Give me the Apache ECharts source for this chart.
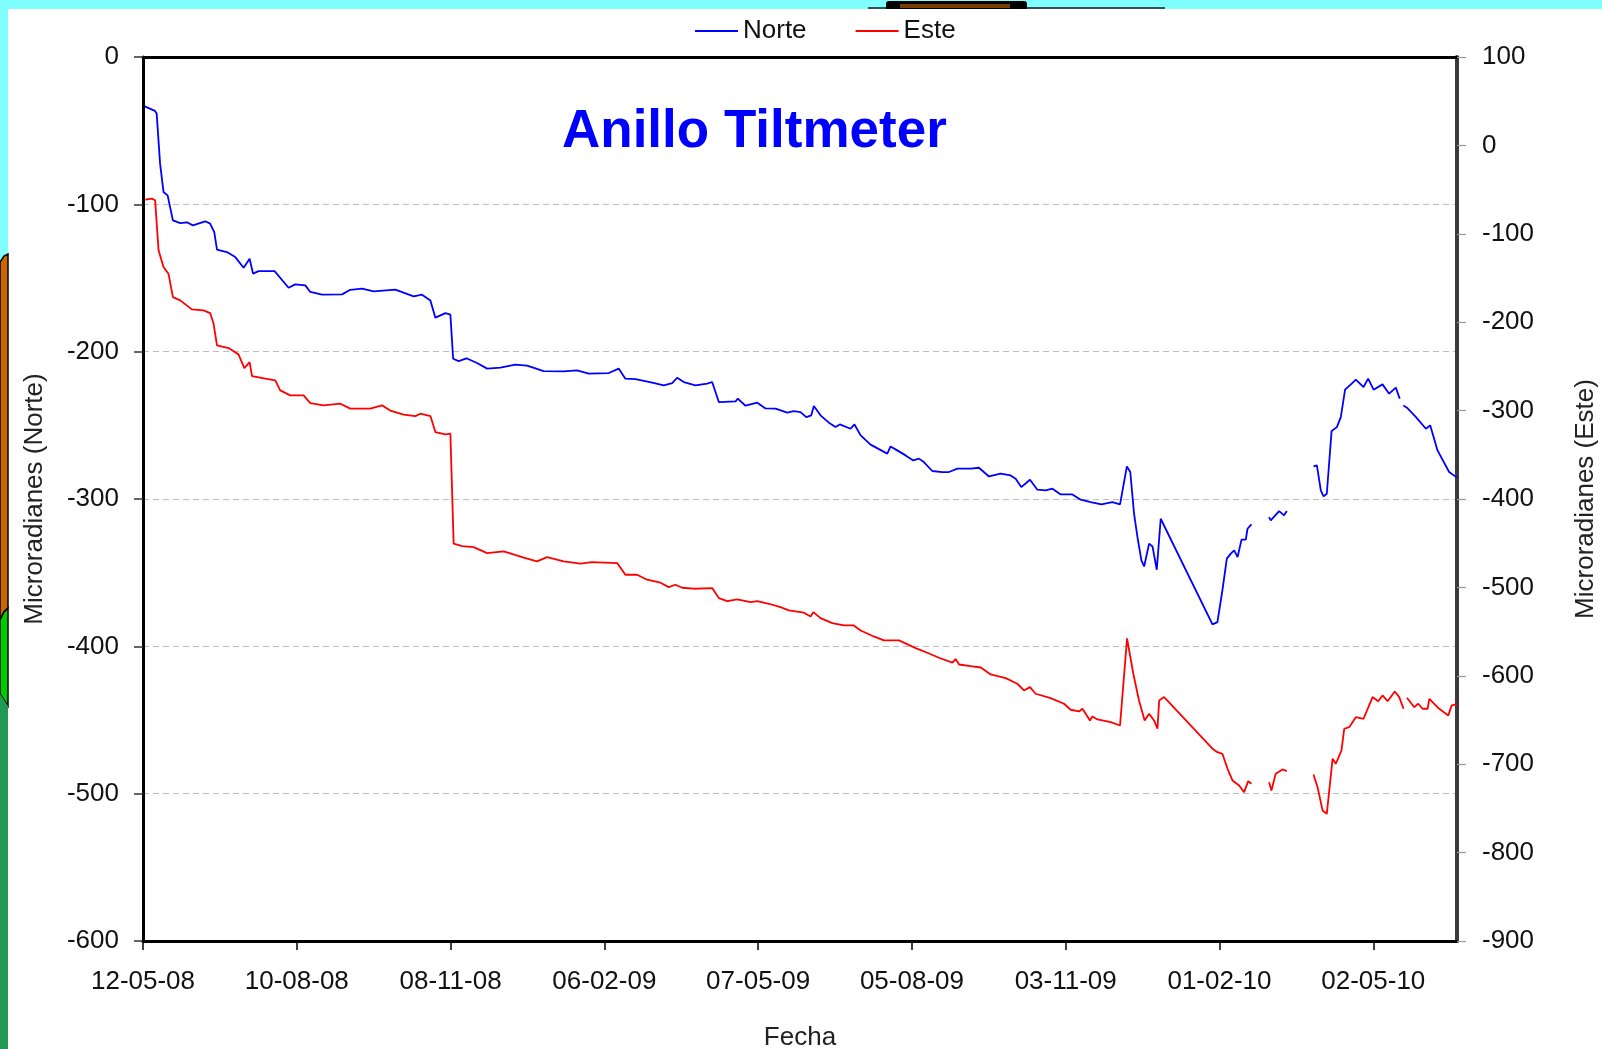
<!DOCTYPE html>
<html>
<head>
<meta charset="utf-8">
<script src="https://cdn.jsdelivr.net/npm/echarts@6/dist/echarts.min.js"></script>
<style>
  html, body { margin: 0; padding: 0; background: #ffffff; overflow: hidden; }
  #chart { width: 1602px; height: 1049px; }
</style>
</head>
<body>
<div id="chart"></div>
<script>
// ---- data (x = days since 12-05-2008) ----
const xTickDays = [0, 90, 180, 270, 360, 450, 540, 630, 720];
const xTickLabels = ['12-05-08', '10-08-08', '08-11-08', '06-02-09', '07-05-09', '05-08-09', '03-11-09', '01-02-10', '02-05-10'];
const leftTicks = [0, -100, -200, -300, -400, -500, -600];
const rightTicks = [100, 0, -100, -200, -300, -400, -500, -600, -700, -800, -900];

const norte = [
  [1,-33.5],[7,-36.6],[8,-38.4],[10,-72.4],[12,-91.6],[14.4,-93.9],[17.5,-110.9],[21.8,-112.7],[25.7,-112.2],[29.2,-114.3],
  [36.4,-111.5],[39.3,-113.1],[41.7,-118.8],[43.3,-130.8],[49.1,-132.4],[54,-135.8],[58.9,-143],[62.4,-136.9],[64.4,-147],[67.6,-145.3],
  [77,-145.3],[85.2,-156.6],[89.1,-154.3],[95,-155],[97.9,-159.5],[104.8,-161.3],[116.5,-161.1],[121.3,-158],[128.2,-157.2],[135,-159.1],
  [147.7,-157.9],[158.4,-162.5],[163.3,-161.3],[168.2,-165.2],[171.1,-176.9],[177,-173.8],[179.9,-174.9],[181.5,-204.8],[184.7,-206.4],[189.3,-204.5],
  [195.5,-207.7],[201.4,-211.5],[209.2,-210.9],[217.9,-208.8],[224.8,-209.5],[234.5,-213.2],[246.2,-213.4],[254,-212.7],[260.9,-214.9],[272.6,-214.5],
  [278.4,-211.5],[282.3,-218.3],[288.2,-218.6],[298,-221],[304.8,-222.9],[309.7,-221.3],[312.6,-217.7],[316.5,-220.6],[323.3,-222.9],[330.2,-221.7],
  [333.1,-220.6],[337,-234.2],[346.8,-233.7],[348.1,-231.9],[352.6,-236.7],[359.5,-234.6],[364.3,-238.5],[370.2,-238.7],[377,-241.4],[380.9,-240.3],
  [384.8,-241],[388.2,-244.4],[391.1,-243.2],[392.6,-236.9],[396.5,-243.2],[401.4,-248.2],[405.3,-251.2],[407.8,-249.4],[414.1,-252.3],[416.4,-249.4],
  [420,-256.8],[425.8,-263.1],[435.6,-269.2],[437.5,-264.3],[441.4,-267],[446.3,-270.4],[450.8,-273.8],[454.1,-272.6],[457,-274.9],[461.9,-281],
  [467.8,-281.7],[471.7,-281.7],[476.6,-279.4],[484.4,-279.4],[489.2,-278.8],[495.1,-284.7],[501.9,-282.8],[507.8,-284],[510.7,-286.2],[514,-291.9],
  [519.1,-286.9],[523.4,-293.7],[528.3,-294.2],[532.2,-293],[537.1,-296.9],[543.9,-296.9],[548.8,-300.5],[554.6,-302.1],[560.9,-303.7],[567.3,-302.1],
  [571.8,-303.7],[575.8,-277.9],[577.8,-281.7],[580,-310],[582,-325.9],[584.3,-341.7],[585.9,-345.8],[588.8,-330.3],[590.8,-332.2],[593.3,-348],
  [595.6,-313.4],[625.9,-385.1],[628.8,-383.6],[631.7,-362],[634.3,-340.5],[636.6,-337.1],[638.6,-334.9],[640.6,-339.4],[642.9,-327.6],[645.4,-327.6],
  [646.4,-320.2],[648.7,-317.2],[652,null],[659,-312.3],[660,-314.5],[664.9,-308.2],[667.8,-311.1],[669.4,-308.2],[676,null],
  [685,-277.9],[687,-277.2],[689.3,-294.2],[690.9,-298.2],[692.8,-296.4],[695.6,-253.9],[698.7,-251.2],[701,-244.4],[703.5,-225.8],[706.9,-222.2],
  [709.8,-219],[714.3,-224],[717,-218.3],[720.2,-225.8],[725.4,-222.2],[729.3,-228.5],[733.2,-224.4],[735.5,-232],[736.5,null],[737.6,-236.5],
  [739.7,-238],[745,-244.4],[750.8,-252.3],[753.3,-250],[757.6,-267],[764.4,-281.7],[769,-285.5]
];

const este = [
  [1.3,-61.4],[5.2,-60.2],[7.1,-62.1],[9.1,-118.7],[12,-137.6],[14.9,-145.1],[17.5,-171.6],[21.8,-175.3],[28.6,-185.5],[35.4,-186.6],
  [39.3,-189.7],[41.3,-201.7],[43.3,-226.2],[50.1,-229.3],[55.9,-236.4],[59.3,-251.9],[62.4,-245.1],[63.8,-260.9],[71.6,-263.9],[77.4,-265.8],
  [80.3,-277.1],[86.2,-282.8],[94,-282.8],[97.9,-291.5],[105.7,-294.1],[115.5,-292.2],[121.3,-297.8],[133,-297.8],[139.9,-294.1],[144.7,-300],
  [152.5,-304.6],[159.4,-306.2],[162.3,-303.5],[168.2,-306.2],[171.1,-324.3],[177,-326.9],[179.9,-326.1],[181.8,-450.6],[186.7,-453.3],[193.5,-454.4],
  [201.4,-461.2],[211.1,-459.3],[222.8,-466.4],[230.6,-470.6],[236.5,-465.7],[246.2,-470.6],[256,-473.2],[262.8,-471.4],[277.5,-472.5],[282.3,-485.7],
  [289.2,-485.7],[295,-491.3],[302.8,-494.7],[307.7,-499.7],[311.6,-497],[315.6,-500.4],[322.3,-501.5],[333.1,-500.8],[337,-512.1],[341.9,-515.5],
  [347.8,-513.6],[355.6,-516.7],[359.5,-515.5],[366.3,-518.5],[373.1,-522.3],[378,-526],[386.8,-528.6],[390.7,-532.9],[392.3,-528],[396.5,-534.8],
  [403.4,-540.4],[410.2,-543],[416,-543],[420,-548.7],[427.7,-555.5],[433.6,-560],[442.4,-560],[452.2,-568.7],[459,-573.9],[465.8,-579.6],
  [473.7,-585.2],[475.6,-581.1],[477.6,-587.2],[484.4,-589.1],[490.3,-590.6],[496.1,-598.5],[504.9,-602.6],[511.7,-609],[515.6,-616.6],[519.1,-612.8],
  [522.4,-620.3],[531.2,-625.3],[539,-631.6],[542.9,-638.4],[547.8,-640.3],[549.8,-637.3],[554.2,-650.5],[555.6,-646],[558.6,-649.4],[566.3,-652.4],
  [571.8,-656.2],[575.9,-557.7],[579.6,-598],[582.9,-627.9],[586.2,-650.5],[588.8,-642.9],[591.7,-650.5],[593.7,-659.9],[594.7,-627.9],[597.6,-624.1],
  [625.9,-682.5],[628.8,-686.4],[631.7,-688.2],[634.7,-705.2],[637.6,-718.4],[641.5,-724.1],[644.4,-731.6],[646.8,-719.2],[648.7,-722.1],[652,null],
  [659,-720.3],[660.4,-729.7],[662.9,-710.8],[666.9,-705.9],[669.4,-707.9],[676,null],
  [685,-711.6],[687.4,-726],[690.3,-752.3],[692.8,-756.1],[696.2,-693.8],[698.1,-699.5],[701.4,-684.4],[703,-659.9],[705.9,-658.1],[709.8,-646.8],
  [714.3,-648.6],[719.6,-624.1],[722.9,-628.7],[725.4,-622.2],[728.4,-628.7],[732.6,-617.7],[735.2,-624.1],[737.7,-637.3],[738.7,null],[739.7,-624.8],
  [744,-635.5],[746.3,-631.6],[748.9,-637.3],[751.8,-637.3],[752.8,-626],[758.6,-637.3],[763.9,-644.8],[765.9,-633.5],[769,-632]
];

// ---- chart ----
const FONT = "'Liberation Sans', Arial, sans-serif";
const chart = echarts.init(document.getElementById('chart'), null, { renderer: 'canvas' });

const option = {
  backgroundColor: '#ffffff',
  animation: false,
  textStyle: { fontFamily: FONT },
  title: {
    text: 'Anillo Tiltmeter',
    left: 557,
    top: 96,
    textStyle: { color: '#0000ff', fontSize: 53, fontWeight: 'bold', fontFamily: FONT, lineHeight: 62 }
  },
  legend: {
    data: ['Norte', 'Este'],
    left: 690,
    top: 13,
    icon: 'rect',
    itemWidth: 43,
    itemHeight: 2,
    itemGap: 49,
    textStyle: { fontSize: 26, color: '#111', fontFamily: FONT }
  },
  grid: { left: 143, top: 57, width: 1314, height: 884, containLabel: false, outerBoundsMode: 'none', show: false },
  xAxis: [
    {
      type: 'value',
      min: 0,
      max: 769,
      position: 'bottom',
      name: 'Fecha',
      nameLocation: 'middle',
      nameGap: 84,
      nameTextStyle: { fontSize: 26, color: '#222', fontFamily: FONT },
      axisLine: { show: true, onZero: false, lineStyle: { color: '#000', width: 3 } },
      axisTick: { show: true, inside: false, length: 9, customValues: xTickDays, lineStyle: { color: '#000', width: 1.5 } },
      axisLabel: {
        show: true, margin: 28, fontSize: 26, color: '#111', fontFamily: FONT,
        customValues: xTickDays,
        formatter: function (v) { const i = xTickDays.indexOf(v); return i >= 0 ? xTickLabels[i] : ''; }
      },
      splitLine: { show: false }
    },
    {
      type: 'value',
      min: 0,
      max: 769,
      position: 'top',
      axisLine: { show: true, onZero: false, lineStyle: { color: '#000', width: 3 } },
      axisTick: { show: false },
      axisLabel: { show: false },
      splitLine: { show: false }
    }
  ],
  yAxis: [
    {
      type: 'value',
      min: -600,
      max: 0,
      interval: 100,
      position: 'left',
      name: 'Microradianes (Norte)',
      nameLocation: 'middle',
      nameRotate: 90,
      nameGap: 95,
      nameTextStyle: { fontSize: 26, color: '#222', fontFamily: FONT },
      axisLine: { show: true, onZero: false, lineStyle: { color: '#000', width: 3 } },
      axisTick: { show: true, inside: false, length: 9, lineStyle: { color: '#333', width: 1.5 } },
      axisLabel: {
        margin: 24, fontSize: 26, color: '#111', fontFamily: FONT,
        customValues: leftTicks,
        formatter: function (v) { return String(v); }
      },
      splitLine: { show: true, showMinLine: false, showMaxLine: false, lineStyle: { color: '#bdbdbd', width: 1, type: [6, 4] } }
    },
    {
      type: 'value',
      min: -900,
      max: 100,
      interval: 100,
      position: 'right',
      name: 'Microradianes (Este)',
      nameLocation: 'middle',
      nameRotate: 90,
      nameGap: 116,
      nameTextStyle: { fontSize: 26, color: '#222', fontFamily: FONT },
      axisLine: { show: true, onZero: false, lineStyle: { color: '#3a3a3a', width: 4 } },
      axisTick: { show: true, inside: false, length: 9, lineStyle: { color: '#999', width: 1.2 } },
      axisLabel: {
        margin: 25, fontSize: 26, color: '#111', fontFamily: FONT,
        customValues: rightTicks,
        formatter: function (v) { return String(v); }
      },
      splitLine: { show: false }
    }
  ],
  series: [
    {
      name: 'Norte',
      type: 'line',
      xAxisIndex: 0,
      yAxisIndex: 0,
      data: norte,
      showSymbol: false,
      symbol: 'none',
      connectNulls: false,
      color: '#0000ff',
      lineStyle: { color: '#0000ff', width: 1.8 },
      z: 3
    },
    {
      name: 'Este',
      type: 'line',
      xAxisIndex: 0,
      yAxisIndex: 1,
      data: este,
      showSymbol: false,
      symbol: 'none',
      connectNulls: false,
      color: '#ff0000',
      lineStyle: { color: '#ff0000', width: 1.8 },
      z: 3
    }
  ],
  graphic: [
    { type: 'rect', shape: { x: 0, y: 0, width: 1602, height: 9 }, style: { fill: '#80ffff' }, silent: true, z: 100 },
    { type: 'rect', shape: { x: 0, y: 0, width: 8, height: 1049 }, style: { fill: '#80ffff' }, silent: true, z: 100 },
    { type: 'polygon', shape: { points: [[0, 262], [4, 256], [8, 254], [8, 608], [4, 612], [0, 620]] }, style: { fill: '#cc6600', stroke: '#000', lineWidth: 1.5 }, silent: true, z: 101 },
    { type: 'polygon', shape: { points: [[0, 620], [4, 612], [8, 608], [8, 706], [4, 700], [0, 694]] }, style: { fill: '#00cc00', stroke: '#000', lineWidth: 1.5 }, silent: true, z: 101 },
    { type: 'polygon', shape: { points: [[0, 694], [4, 700], [8, 706], [8, 1049], [0, 1049]] }, style: { fill: '#229955' }, silent: true, z: 101 },
    { type: 'line', shape: { x1: 868, y1: 8, x2: 1165, y2: 8 }, style: { stroke: '#1a1a1a', lineWidth: 1.5 }, silent: true, z: 101 },
    { type: 'rect', shape: { x: 886, y: 1, width: 141, height: 8, r: [3, 3, 0, 0] }, style: { fill: '#000' }, silent: true, z: 101 },
    { type: 'rect', shape: { x: 900, y: 4, width: 110, height: 4 }, style: { fill: '#7a3d00' }, silent: true, z: 102 }
  ]
};
chart.setOption(option);
</script>
</body>
</html>
